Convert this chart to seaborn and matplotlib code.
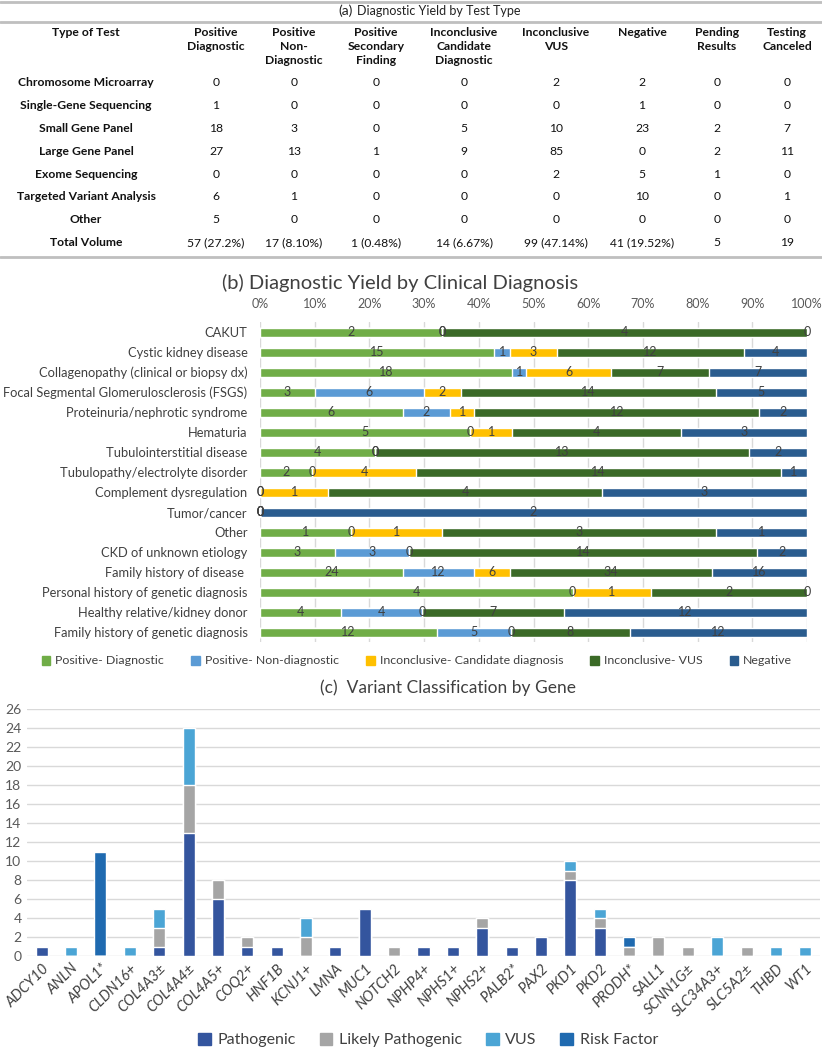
import numpy as np
import pandas as pd
import matplotlib
matplotlib.use("Agg")
import matplotlib.pyplot as plt
import seaborn as sns
from matplotlib.patches import Patch

sns.set_theme(style="white")
plt.rcParams["font.family"] = ["Lato", "DejaVu Sans"]

W, H = 822, 1050

# (a) Diagnostic yield by test type
test_types = ["Chromosome Microarray", "Single-Gene Sequencing", "Small Gene Panel",
              "Large Gene Panel", "Exome Sequencing", "Targeted Variant Analysis", "Other"]
col_headers = ["Type of Test", "Positive\nDiagnostic", "Positive\nNon-\nDiagnostic",
               "Positive\nSecondary\nFinding", "Inconclusive\nCandidate\nDiagnostic",
               "Inconclusive\nVUS", "Negative", "Pending\nResults", "Testing\nCanceled"]
pos_diag_a = [0, 1, 18, 27, 0, 6, 5]
pos_nondiag_a = [0, 0, 3, 13, 0, 1, 0]
pos_secondary_a = [0, 0, 0, 1, 0, 0, 0]
inconc_cand_a = [0, 0, 5, 9, 0, 0, 0]
inconc_vus_a = [2, 0, 10, 85, 2, 0, 0]
negative_a = [2, 1, 23, 0, 5, 10, 0]
pending_a = [0, 0, 2, 2, 1, 0, 0]
canceled_a = [0, 0, 7, 11, 0, 1, 0]
total_labels = ["57 (27.2%)", "17 (8.10%)", "1 (0.48%)", "14 (6.67%)",
                "99 (47.14%)", "41 (19.52%)", "5", "19"]

# (b) Diagnostic yield by clinical diagnosis
diagnoses = ["CAKUT", "Cystic kidney disease", "Collagenopathy (clinical or biopsy dx)",
             "Focal Segmental Glomerulosclerosis (FSGS)", "Proteinuria/nephrotic syndrome",
             "Hematuria", "Tubulointerstitial disease", "Tubulopathy/electrolyte disorder",
             "Complement dysregulation", "Tumor/cancer", "Other", "CKD of unknown etiology",
             "Family history of disease ", "Personal history of genetic diagnosis",
             "Healthy relative/kidney donor", "Family history of genetic diagnosis"]
pos_diag_b = [2, 15, 18, 3, 6, 5, 4, 2, 0, 0, 1, 3, 24, 4, 4, 12]
pos_nondiag_b = [0, 1, 1, 6, 2, 0, 0, 0, 0, 0, 0, 3, 12, 0, 4, 5]
inconc_cand_b = [0, 3, 6, 2, 1, 1, 0, 4, 1, 0, 1, 0, 6, 1, 0, 0]
inconc_vus_b = [4, 12, 7, 14, 12, 4, 13, 14, 4, 0, 3, 14, 34, 2, 7, 8]
negative_b = [0, 4, 7, 5, 2, 3, 2, 1, 3, 2, 1, 2, 16, 0, 12, 12]
series_b = ["Positive- Diagnostic", "Positive- Non-diagnostic",
            "Inconclusive- Candidate diagnosis", "Inconclusive- VUS", "Negative"]
colors_b = ["#70AD47", "#5B9BD5", "#FFC000", "#3B6A27", "#2A5C8E"]

# (c) Variant classification by gene
genes = ["ADCY10", "ANLN", "APOL1*", "CLDN16+", "COL4A3±", "COL4A4±", "COL4A5+", "COQ2+",
         "HNF1B", "KCNJ1+", "LMNA", "MUC1", "NOTCH2", "NPHP4+", "NPHS1+", "NPHS2+",
         "PALB2*", "PAX2", "PKD1", "PKD2", "PRODH*", "SALL1", "SCNN1G±", "SLC34A3+",
         "SLC5A2±", "THBD", "WT1"]
pathogenic = [1, 0, 0, 0, 1, 13, 6, 1, 1, 0, 1, 5, 0, 1, 1, 3, 1, 2, 8, 3, 0, 0, 0, 0, 0, 0, 0]
likely_path = [0, 0, 0, 0, 2, 5, 2, 1, 0, 2, 0, 0, 1, 0, 0, 1, 0, 0, 1, 1, 1, 2, 1, 0, 1, 0, 0]
vus = [0, 1, 0, 1, 2, 6, 0, 0, 0, 2, 0, 0, 0, 0, 0, 0, 0, 0, 1, 1, 0, 0, 0, 2, 0, 1, 1]
risk_factor = [0, 0, 11, 0, 0, 0, 0, 0, 0, 0, 0, 0, 0, 0, 0, 0, 0, 0, 0, 0, 1, 0, 0, 0, 0, 0, 0]
series_c = ["Pathogenic", "Likely Pathogenic", "VUS", "Risk Factor"]
colors_c = ["#34559E", "#A5A5A5", "#4BA5D5", "#1F6AB0"]

TXT = "#404040"
GRID = "#D9D9D9"

fig = plt.figure(figsize=(W / 100, H / 100), dpi=100)

# background axes in pixel units for the table and titles
bg = fig.add_axes([0, 0, 1, 1])
bg.set_xlim(0, W)
bg.set_ylim(H, 0)
bg.axis("off")

# ---- panel (a): table
bg.plot([0, W], [1.5, 1.5], color="#BFBFBF", lw=2)
bg.plot([0, W], [22, 22], color="#BFBFBF", lw=2)
bg.text(353, 11, "(a)", ha="right", va="center", fontsize=10, color="#222222")
bg.text(357, 11, "Diagnostic Yield by Test Type", ha="left", va="center",
        fontsize=9, color="#222222")

col_x = [86, 216, 294, 376, 464, 556, 642, 717, 787]
for cx, head in zip(col_x, col_headers):
    bg.text(cx, 27, head, ha="center", va="top", fontsize=8.7, fontweight="bold",
            color="#111111", linespacing=1.35)

table_cols = [pos_diag_a, pos_nondiag_a, pos_secondary_a, inconc_cand_a,
              inconc_vus_a, negative_a, pending_a, canceled_a]
row_y0, row_dy = 83, 22.8
for i, name in enumerate(test_types):
    y = row_y0 + i * row_dy
    bg.text(col_x[0], y, name, ha="center", va="center", fontsize=8.7,
            fontweight="bold", color="#111111")
    for cx, col in zip(col_x[1:], table_cols):
        bg.text(cx, y, str(col[i]), ha="center", va="center", fontsize=8.7, color="#111111")
y_tot = row_y0 + len(test_types) * row_dy
bg.text(col_x[0], y_tot, "Total Volume", ha="center", va="center", fontsize=8.7,
        fontweight="bold", color="#111111")
for cx, lab in zip(col_x[1:], total_labels):
    bg.text(cx, y_tot, lab, ha="center", va="center", fontsize=8.7, color="#111111")
bg.plot([0, W], [y_tot + 14, y_tot + 14], color="#BFBFBF", lw=2)

# ---- panel (b): 100% stacked horizontal bars
df_b = pd.DataFrame({"diagnosis": diagnoses, series_b[0]: pos_diag_b,
                     series_b[1]: pos_nondiag_b, series_b[2]: inconc_cand_b,
                     series_b[3]: inconc_vus_b, series_b[4]: negative_b})
counts = df_b[series_b].to_numpy(dtype=float)
pct = counts / counts.sum(axis=1, keepdims=True) * 100
cum = np.cumsum(pct, axis=1)

ax_b = fig.add_axes([260 / W, 1 - 642 / H, (807 - 260) / W, (642 - 322) / H])
for k in range(len(series_b) - 1, -1, -1):
    layer = pd.DataFrame({"diagnosis": diagnoses, "cum": cum[:, k]})
    sns.barplot(data=layer, x="cum", y="diagnosis", orient="h", color=colors_b[k],
                saturation=1, width=0.45, ax=ax_b, zorder=2)
for i in range(len(diagnoses)):
    for k in range(len(series_b)):
        start = cum[i, k - 1] if k > 0 else 0
        ax_b.text((start + cum[i, k]) / 2, i, f"{int(counts[i, k])}", ha="center",
                  va="center", fontsize=9, color=TXT, zorder=3)
ax_b.set_xlim(0, 100)
ax_b.set_ylim(len(diagnoses) - 0.5, -0.5)
ax_b.set_xticks(np.arange(0, 101, 10))
ax_b.set_xticklabels([f"{v}%" for v in range(0, 101, 10)])
ax_b.xaxis.set_ticks_position("top")
ax_b.tick_params(axis="x", length=0, pad=9, labelsize=9, labelcolor="#595959")
ax_b.tick_params(axis="y", length=0, pad=9, labelsize=9.3, labelcolor=TXT)
ax_b.grid(axis="x", color=GRID, lw=1, zorder=0)
ax_b.set_axisbelow(True)
ax_b.set_xlabel("")
ax_b.set_ylabel("")
for s in ax_b.spines.values():
    s.set_visible(False)

bg.text(400, 283, "(b) Diagnostic Yield by Clinical Diagnosis", ha="center", va="center",
        fontsize=14.5, color="#404040")
fig.legend(handles=[Patch(color=c, label=l) for c, l in zip(colors_b, series_b)],
           loc="center", bbox_to_anchor=(417 / W, 1 - 661 / H), ncol=5, frameon=False,
           fontsize=8.9, handlelength=0.7, handleheight=0.7, handletextpad=0.4,
           columnspacing=2.2, labelcolor=TXT)

# ---- panel (c): stacked vertical bars
ax_c = fig.add_axes([27 / W, 1 - 956 / H, (820 - 27) / W, (956 - 709) / H])
stack_c = np.array([pathogenic, likely_path, vus, risk_factor], dtype=float)
cum_c = np.cumsum(stack_c, axis=0)
for k in range(len(series_c) - 1, -1, -1):
    layer = pd.DataFrame({"gene": genes, "cum": cum_c[k]})
    sns.barplot(data=layer, x="gene", y="cum", color=colors_c[k], saturation=1,
                width=0.41, ax=ax_c, zorder=2)
ax_c.set_ylim(0, 26)
ax_c.set_xlim(-0.5, len(genes) - 0.5)
ax_c.set_yticks(range(0, 27, 2))
ax_c.grid(axis="y", color=GRID, lw=1, zorder=0)
ax_c.set_axisbelow(True)
ax_c.tick_params(axis="y", length=0, pad=4, labelsize=10, labelcolor="#595959")
ax_c.tick_params(axis="x", length=0, pad=4, labelsize=10.5, labelcolor=TXT)
for lab in ax_c.get_xticklabels():
    lab.set_rotation(45)
    lab.set_ha("right")
    lab.set_rotation_mode("anchor")
    lab.set_fontstyle("italic")
ax_c.set_xlabel("")
ax_c.set_ylabel("")
for s in ax_c.spines.values():
    s.set_visible(False)

bg.text(448, 688, "(c)  Variant Classification by Gene", ha="center", va="center",
        fontsize=12.5, color="#404040")
fig.legend(handles=[Patch(color=c, label=l) for c, l in zip(colors_c, series_c)],
           loc="center", bbox_to_anchor=(428 / W, 1 - 1040 / H), ncol=4, frameon=False,
           fontsize=11.5, handlelength=0.8, handleheight=0.8, handletextpad=0.4,
           columnspacing=1.5, labelcolor=TXT)

fig.savefig("out.png", dpi=100)
